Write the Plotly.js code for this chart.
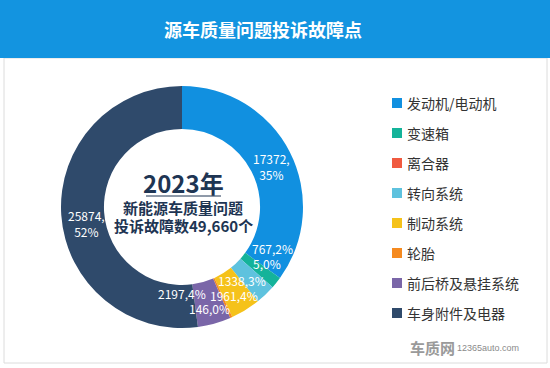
<!DOCTYPE html>
<html>
<head>
<meta charset="utf-8">
<script src="https://cdn.plot.ly/plotly-3.0.1.min.js"></script>
<style>html,body{margin:0;padding:0;background:#fff;}#chart{width:550px;height:368px;}</style>
</head>
<body>
<div id="chart"></div>
<script>
// ---- data ----
const categories = ['发动机/电动机', '变速箱', '离合器', '转向系统', '制动系统', '轮胎', '前后桥及悬挂系统', '车身附件及电器'];
const values = [17372, 767, 5, 1338, 1961, 146, 2197, 25874];
const colors = ['#1190e0', '#14b39a', '#f05a40', '#5ec2de', '#f5c21a', '#f58a1f', '#7a66a8', '#2f4a6b'];
const titleText = '源车质量问题投诉故障点';
const centerYear = '2023年';
const centerLine1 = '新能源车质量问题';
const centerLine2 = '投诉故障数49,660个';

// ---- geometry (pixels) ----
const W = 550, H = 368;
const cx = 182, cy = 207, R = 121;
const labelR = 100;
// small pixel nudges for label placement, per slice
const nudges = [[0,5],[12,-21],[10,-10],[-9,1],[0,3],[-13,10],[-27,-10],[4,10]];

const px = x => x / W;
const py = y => 1 - y / H;

const total = values.reduce((a,b)=>a+b,0);
const annotations = [];
let cum = 0;
values.forEach((v,i)=>{
  const mid = (cum + v/2) / total * 2 * Math.PI;
  cum += v;
  const pct = Math.round(v / total * 100);
  const txt = pct >= 10 ? v + ',<br>' + pct + '%' : v + ',' + pct + '%';
  const x = cx + labelR * Math.sin(mid) + nudges[i][0];
  const y = cy - labelR * Math.cos(mid) + nudges[i][1];
  annotations.push({xref:'paper', yref:'paper', x:px(x), y:py(y), text:txt, showarrow:false,
    xanchor:'center', yanchor:'middle', align:'center',
    font:{family:'Noto Sans CJK SC, Noto Sans, sans-serif', size:12, color:'#ffffff'}});
});

// center text
annotations.push({xref:'paper', yref:'paper', x:px(cx+1), y:py(183), text:'<b>'+centerYear+'</b>', showarrow:false,
  xanchor:'center', yanchor:'middle', font:{family:'Noto Sans CJK SC, sans-serif', size:24, color:'#1e3553'}});
annotations.push({xref:'paper', yref:'paper', x:px(cx+1), y:py(208), text:'<b>'+centerLine1+'</b>', showarrow:false,
  xanchor:'center', yanchor:'middle', font:{family:'Noto Sans CJK SC, sans-serif', size:15, color:'#1e3553'}});
annotations.push({xref:'paper', yref:'paper', x:px(cx+1), y:py(226), text:'<b>'+centerLine2+'</b>', showarrow:false,
  xanchor:'center', yanchor:'middle', font:{family:'Noto Sans CJK SC, sans-serif', size:15, color:'#1e3553'}});

// legend (manual, 30px rows)
const shapes = [
  {type:'rect', xref:'paper', yref:'paper', x0:px(4), x1:px(547), y0:py(363), y1:py(58), line:{color:'#dcdcdc', width:1}, fillcolor:'rgba(0,0,0,0)', layer:'below'},
  {type:'rect', xref:'paper', yref:'paper', x0:0, x1:1, y0:py(58), y1:1, line:{width:0}, fillcolor:'#1394e0', layer:'below'},
  {type:'line', xref:'paper', yref:'paper', x0:px(146), x1:px(221), y0:py(196), y1:py(196), line:{color:'#1e3553', width:1}}
];
categories.forEach((c,i)=>{
  const yy = 103 + 30*i;
  shapes.push({type:'rect', xref:'paper', yref:'paper', x0:px(392), x1:px(402), y0:py(yy+5), y1:py(yy-5), line:{width:0}, fillcolor:colors[i]});
  annotations.push({xref:'paper', yref:'paper', x:px(405), y:py(yy), text:c, showarrow:false, xanchor:'left', yanchor:'middle',
    font:{family:'Noto Sans CJK SC, sans-serif', size:14, color:'#333333'}});
});

// watermark
annotations.push({xref:'paper', yref:'paper', x:px(432), y:py(347), text:'<b>车质网</b>', showarrow:false, xanchor:'center', yanchor:'middle',
  font:{family:'Noto Sans CJK SC, sans-serif', size:15, color:'#9a9a9a'}});
annotations.push({xref:'paper', yref:'paper', x:px(455), y:py(348), text:'12365auto.com', showarrow:false, xanchor:'left', yanchor:'middle',
  font:{family:'Liberation Sans, sans-serif', size:9, color:'#8a8a8a'}});

const trace = {
  type:'pie', labels:categories, values:values, sort:false, direction:'clockwise', rotation:0,
  hole:0.645, marker:{colors:colors, line:{width:0}}, textinfo:'none', hoverinfo:'label+value+percent',
  domain:{x:[px(cx-R), px(cx+R)], y:[py(cy+R), py(cy-R)]}, showlegend:false
};

const layout = {
  width:W, height:H, margin:{l:0,r:0,t:0,b:0}, paper_bgcolor:'#ffffff', plot_bgcolor:'#ffffff',
  showlegend:false,
  title:{text:'<b>'+titleText+'</b>', x:px(263), xanchor:'center', y:py(31), yanchor:'middle', xref:'paper', yref:'paper',
    font:{family:'Noto Sans CJK SC, sans-serif', size:18, color:'#ffffff'}},
  shapes:shapes, annotations:annotations
};

Plotly.newPlot('chart', [trace], layout, {displayModeBar:false, staticPlot:true});
</script>
</body>
</html>
